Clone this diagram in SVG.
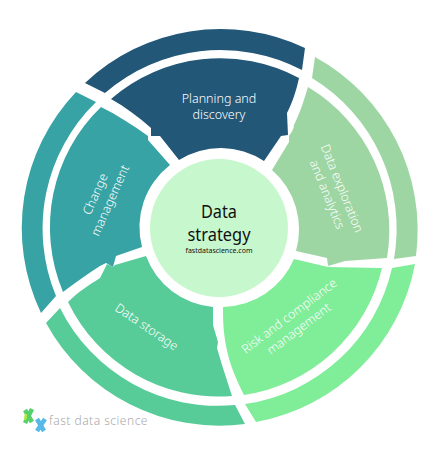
<svg xmlns="http://www.w3.org/2000/svg" width="444" height="450" viewBox="0 0 444 450">
<style>
text{font-family:"Noto Sans","Open Sans","DejaVu Sans",sans-serif;text-anchor:middle}
.w{fill:#fff;font-size:12.5px;font-weight:300}
.plan{fill:#225778}.chg{fill:#38a3a5}.sto{fill:#57cc99}.risk{fill:#80ed99}.exp{fill:#9dd6a3}
</style>
<rect width="444" height="450" fill="#fff"/>
<g id="planning">
<path class="plan" d="M85 83A197.500 197.500 0 0 1 305 48L302 70A176.500 176.500 0 0 0 105 93Z"/>
<path class="plan" d="M111 99A167 167 0 0 1 299 78C296 92 292 103 287 113L288 135L281 136L264 161A78.500 78.500 0 0 0 179 160L160 136H151V128C139 117 125 107 111 99Z"/>
<text class="w" x="219" y="103">Planning and</text><text class="w" x="219" y="119">discovery</text>
</g>
<g id="exploration">
<path class="exp" d="M315 57A197.500 197.500 0 0 1 416 256L394 259A176.500 176.500 0 0 0 312 78Z"/>
<path class="exp" d="M308 87A167 167 0 0 1 387 258L345 261L328 266L327 258L296 251A78.500 78.500 0 0 0 272 170L289 142V136C292 132 294 128 294 125C300 113 304 100 308 87Z"/>
<g transform="translate(338 190) rotate(68)"><text class="w" x="0" y="0">Data exploration</text><text class="w" x="0" y="16">and analytics</text></g>
</g>
<g id="risk">
<path class="risk" d="M415 264A197.500 197.500 0 0 1 256 422L245 404A176.500 176.500 0 0 0 392 268Z"/>
<path class="risk" d="M382 268A167 167 0 0 1 244 395C234 375 228 360 225 340C223 328 223 318 223 307A78.500 78.500 0 0 0 294 259L328 267Z"/>
<g transform="translate(293 321) rotate(-37)"><text class="w" x="0" y="-2">Risk and compliance</text><text class="w" x="0" y="14">management</text></g>
</g>
<g id="storage">
<path class="sto" d="M46 323L60 308A176.500 176.500 0 0 0 235 405L245 424A197.500 197.500 0 0 1 46 323Z"/>
<path class="sto" d="M68 302C78 292 89 285 100 278L107 264L113 267L115 265L146 256A78.500 78.500 0 0 0 213 307V325L218 342L217 348L222 365L232 396A167 167 0 0 1 68 302Z"/>
<g transform="translate(146.500 327) rotate(34)"><text class="w" x="0" y="4">Data storage</text></g>
</g>
<g id="change">
<path class="chg" d="M76 92L96 102A176.500 176.500 0 0 0 56 296L41 313A197.500 197.500 0 0 1 76 92Z"/>
<path class="chg" d="M101 107C117 115 133 125 148 136V140L170 165A78.500 78.500 0 0 0 142 247L116 256L113 267L106 263L100 266C87 274 75 283 63 292A167 167 0 0 1 101 107Z"/>
<g transform="translate(102 197) rotate(-66)"><text class="w" x="0" y="-3">Change</text><text class="w" x="0" y="13">management</text></g>
</g>
<g id="center">
<circle cx="219" cy="228" r="69" fill="#c7f8cd"/>
<text x="219" y="218" font-size="18" fill="#111" textLength="36" lengthAdjust="spacingAndGlyphs">Data</text>
<text x="219" y="241" font-size="18" fill="#111" textLength="63" lengthAdjust="spacingAndGlyphs">strategy</text>
<text x="219" y="253" font-size="7" fill="#111">fastdatascience.com</text>
</g>
<g id="logo">
<path d="M25 410L32 422M32 409L25 423" stroke="#55d06a" stroke-width="4.500" fill="none"/>
<path d="M26 414L25 420" stroke="#b5e83c" stroke-width="2.500" fill="none"/>
<path d="M37 419L44 431M45 419L37 431" stroke="#57b9e8" stroke-width="4.500" fill="none"/>
<text x="98.500" y="425" font-size="12" fill="#aaa" font-weight="300" letter-spacing="0.5">fast data science</text>
</g>
</svg>
